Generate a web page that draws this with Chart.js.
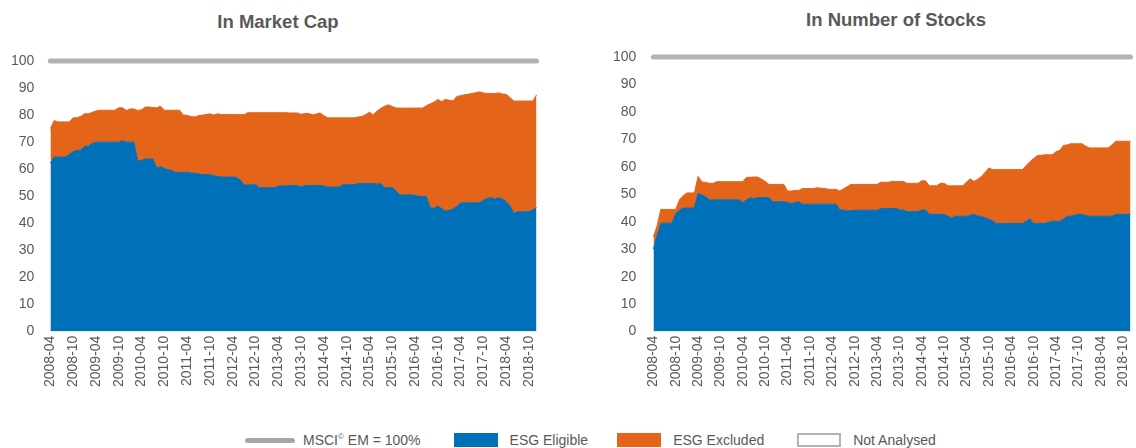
<!DOCTYPE html>
<html>
<head>
<meta charset="utf-8">
<script src="https://cdn.jsdelivr.net/npm/chart.js@4.4.1/dist/chart.umd.min.js"></script>
<style>
	body {
		margin: 0;
		width: 1136px;
		height: 448px;
		overflow: hidden;
		position: relative;
		background: #fff;
		font-family: 'Liberation Sans', Arial, sans-serif;
	}
	.box {
		position: absolute;
		top: 0;
		height: 394px;
	}
	#leftBox { left: -5px; width: 555px; }
	#rightBox { left: 596px; width: 548px; }
	.title {
		position: absolute;
		width: 300px;
		text-align: center;
		font-size: 18.5px;
		font-weight: bold;
		color: #595959;
		line-height: 22px;
	}
	.legend {
		position: absolute;
		top: 432px;
		left: 245px;
		display: flex;
		align-items: center;
		font-size: 14px;
		color: #595959;
		white-space: nowrap;
	}
	.legend sup { font-size: 8px; }
	.swatch { display: inline-block; }
	.line { width: 50px; height: 5px; border-radius: 3px; background: #a6a6a6; margin-right: 8px; }
	.sq { width: 44px; height: 14px; margin-right: 12px; box-sizing: border-box; }
	.gap { margin-right: 33px; }
	.gap2 { margin-right: 29px; }
</style>
</head>
<body>
<div class="title" style="left:128px; top:11px">In Market Cap</div>
<div class="title" style="left:746px; top:9px">In Number of Stocks</div>
<div class="box" id="leftBox"><canvas id="capChart"></canvas></div>
<div class="box" id="rightBox"><canvas id="stocksChart"></canvas></div>
<div class="legend">
	<span class="swatch line"></span><span class="gap">MSCI<sup>©</sup> EM = 100%</span>
	<span class="swatch sq" style="background:#0070b8"></span><span class="gap2">ESG Eligible</span>
	<span class="swatch sq" style="background:#e46519"></span><span class="gap">ESG Excluded</span>
	<span class="swatch sq" style="border:2px solid #b3b3b3"></span><span>Not Analysed</span>
</div>
<script>
// monthly, 2008-04 .. 2018-12
const firstYear = 2008;
const firstMonth = 4;
const monthCount = 129;

const months = [];
for (let i = 0; i < monthCount; i++) {
	const m = firstMonth - 1 + i;
	const y = firstYear + Math.floor(m / 12);
	months.push(`${y}-${String((m % 12) + 1).padStart(2, '0')}`);
}

const benchmarkLevel = 100;

// In Market Cap
const capEligible = [
	62.3, 64.5, 64.5, 64.5, 64.5, 65.5, 66.5, 67, 67,
	68.5, 68.5, 69.5, 70, 70, 70, 70, 70, 70, 70, 70.5, 70,
	70, 70, 63, 63.3, 63.8, 63.8, 63.8, 60.5, 61, 60.3, 59.8, 59.5,
	58.8, 58.8, 58.8, 58.9, 58.5, 58.5, 58.3, 58, 58, 58, 57.6, 57.3,
	57.2, 57.1, 57.1, 57.1, 57, 56, 54.2, 54.2, 54.2, 54.5, 53.2, 53.2,
	53.2, 53.2, 53.2, 53.8, 53.8, 53.8, 54, 54, 54, 53.4, 54, 54,
	54, 54, 54, 53.8, 53.4, 53.4, 53.4, 53.4, 54.3, 54.3, 54.3, 54.3,
	54.7, 54.7, 54.7, 54.7, 54.7, 54.5, 54.7, 53.2, 53.2, 53.2, 52, 50.5,
	50.5, 50.5, 50.5, 50.3, 50, 49.9, 49.9, 45.8, 45.5, 46.4, 45.5, 44.5,
	44.8, 45.3, 46.2, 47.6, 47.6, 47.6, 47.6, 47.6, 47.6, 48.6, 49.2, 49.5,
	49, 49.5, 49, 48, 46.5, 43.7, 44.3, 44.3, 44.3, 44.3, 45, 45.8,
];
const capTotal = [
	75, 78, 77.5, 77.5, 77.5, 77.5, 79, 79, 79.5,
	80.5, 80.5, 81, 81.5, 81.8, 81.8, 81.8, 81.8, 81.8, 82.7, 82.7, 81.7,
	82.3, 82.3, 81.7, 82, 83, 83, 82.8, 82.7, 83.3, 81.8, 81.8, 81.8,
	81.8, 81.8, 80, 79.9, 79.5, 79.3, 79.8, 80, 80.2, 80.5, 80, 80.5,
	80.2, 80.2, 80.2, 80.2, 80.2, 80.2, 80.2, 80.9, 80.9, 80.9, 80.9, 80.9,
	80.9, 80.9, 80.9, 80.9, 80.9, 80.9, 80.8, 80.8, 80.8, 80.3, 80.6, 80.6,
	80.1, 80.4, 80.8, 79.8, 79, 79, 79, 79, 79, 79, 79, 79,
	79.3, 79.5, 80.2, 81.1, 80.1, 81.5, 82.5, 83.3, 83.8, 83.2, 82.6, 82.6,
	82.6, 82.6, 82.6, 82.6, 82.6, 82.6, 83.5, 84.2, 84.8, 85.8, 85, 85.8,
	85.5, 85.3, 86.9, 87.2, 87.5, 87.7, 88, 88.3, 88.6, 88.2, 88, 88,
	88, 88.2, 87.8, 87.7, 86.5, 85.2, 85.2, 85.2, 85.2, 85.2, 85.2, 87.5,
];

// In Number of Stocks
const stockEligible = [
	30, 35, 39.5, 39.5, 39.5, 39.5, 43, 44.2, 45,
	45, 45, 45, 50.3, 49.8, 49.1, 48, 48, 48, 48, 48, 48,
	48, 48, 48, 47, 48, 48.8, 48.3, 48.8, 48.8, 48.8, 48.8, 47.3,
	47.3, 47.3, 47.3, 47, 46.6, 47, 47.3, 46.4, 46.4, 46.4, 46.4, 46.4,
	46.4, 46.4, 46.4, 46.4, 46.4, 44.3, 44.3, 44, 44, 44.2, 44.2, 44.2,
	44.2, 44.2, 44.2, 44.2, 44.8, 44.8, 44.8, 44.8, 44.9, 44.3, 44.3, 43.7,
	43.7, 43.7, 43.7, 44.3, 44.3, 42.7, 42.7, 42.7, 42.7, 42.7, 42, 41.3,
	42, 42, 42, 42, 42.3, 42.7, 42, 42, 41.3, 41, 40.3, 39.4,
	39.4, 39.4, 39.4, 39.4, 39.4, 39.4, 39.4, 40.2, 41, 39.4, 39.4, 39.4,
	39.4, 39.8, 40.2, 40.2, 40.2, 41, 42, 42, 42.4, 42.7, 42.7, 42.2,
	42, 42, 42, 42, 42, 42, 42, 42.7, 42.7, 42.7, 42.7, 42.7,
];
const stockTotal = [
	34.5, 38.5, 44.5, 44.5, 44.5, 44.5, 44.5, 48, 49.5,
	50.5, 50.5, 50.5, 56.5, 54.5, 54.4, 54, 54, 54.6, 54.6, 54.6, 54.6,
	54.6, 54.6, 54.6, 54.6, 56.2, 56.2, 56.3, 56.3, 55.5, 54.7, 53.6, 53.6,
	53.6, 53.6, 53.6, 51.2, 51.2, 51.4, 51.4, 52.1, 52.1, 52.1, 52.1, 52.4,
	52.2, 52.2, 51.8, 51.8, 51.8, 51.2, 52, 52.8, 53.6, 53.6, 53.6, 53.6,
	53.6, 53.6, 53.6, 53.6, 54.4, 54.4, 54.4, 54.7, 54.7, 54.7, 54.7, 54,
	54, 54, 54, 54.9, 54.9, 53.1, 53.1, 53.1, 54, 54, 53.1, 53.1,
	53.1, 53.1, 53.1, 54.5, 55.6, 54.7, 55.5, 56.5, 58, 59.6, 59, 59,
	59, 59, 59, 59, 59, 59, 59, 60.5, 61.9, 63, 64.1, 64.2,
	64.4, 64.4, 64.4, 65.5, 66, 67.8, 68, 68.4, 68.4, 68.4, 68.4, 67.5,
	66.9, 66.9, 66.9, 66.9, 66.9, 66.9, 68, 69.3, 69.3, 69.3, 69.3, 69.3,
];

[capEligible, capTotal, stockEligible, stockTotal].forEach((arr) => {
	if (arr.length !== monthCount) throw new Error('bad length ' + arr.length);
});

const blue = '#0070b8';
const orange = '#e46519';
const grey = '#b3b3b3';
const textColor = '#595959';
const fontFamily = "'Liberation Sans', Arial, sans-serif";

function makeChart(id, eligible, total, opts) {
	const excluded = total.map((v, i) => +(v - eligible[i]).toFixed(1));

	const areaDefaults = {
		pointRadius: 0,
		tension: 0,
		borderWidth: 1,
		stack: 'esg',
	};

	return new Chart(document.getElementById(id), {
		type: 'line',
		data: {
			labels: months,
			datasets: [
				{
					...areaDefaults,
					label: 'ESG Eligible',
					data: eligible,
					borderColor: blue,
					backgroundColor: blue,
					fill: 'origin',
				},
				{
					...areaDefaults,
					label: 'ESG Excluded',
					data: excluded,
					borderColor: orange,
					backgroundColor: orange,
					fill: '-1',
				},
				{
					label: 'MSCI EM = 100%',
					data: months.map(() => benchmarkLevel),
					stack: 'ref',
					pointRadius: 0,
					borderWidth: 5,
					borderColor: grey,
					borderCapStyle: 'round',
					fill: false,
					clip: false,
				},
			],
		},
		options: {
			animation: false,
			responsive: true,
			maintainAspectRatio: false,
			events: [],
			layout: { padding: opts.padding },
			plugins: {
				legend: { display: false },
				tooltip: { enabled: false },
			},
			scales: {
				x: {
					grid: { display: false, drawTicks: false },
					border: { display: false },
					ticks: {
						autoSkip: false,
						minRotation: 90,
						maxRotation: 90,
						padding: 4,
						color: textColor,
						font: { family: fontFamily, size: 14 },
						callback: (val, index) => (index % 6 === 0 ? months[index] : null),
					},
				},
				y: {
					stacked: true,
					min: 0,
					max: 100,
					grid: { display: false, drawTicks: false },
					border: { display: false },
					ticks: {
						stepSize: 10,
						padding: opts.yPad,
						color: textColor,
						font: { family: fontFamily, size: 14 },
					},
				},
			},
		},
	});
}

// In Market Cap
makeChart('capChart', capEligible, capTotal, {
	padding: { left: 0, right: 13, top: 61, bottom: 3 },
	yPad: 16,
});

// In Number of Stocks
makeChart('stocksChart', stockEligible, stockTotal, {
	padding: { left: 0, right: 5, top: 57, bottom: 3 },
	yPad: 17,
});
</script>
</body>
</html>
